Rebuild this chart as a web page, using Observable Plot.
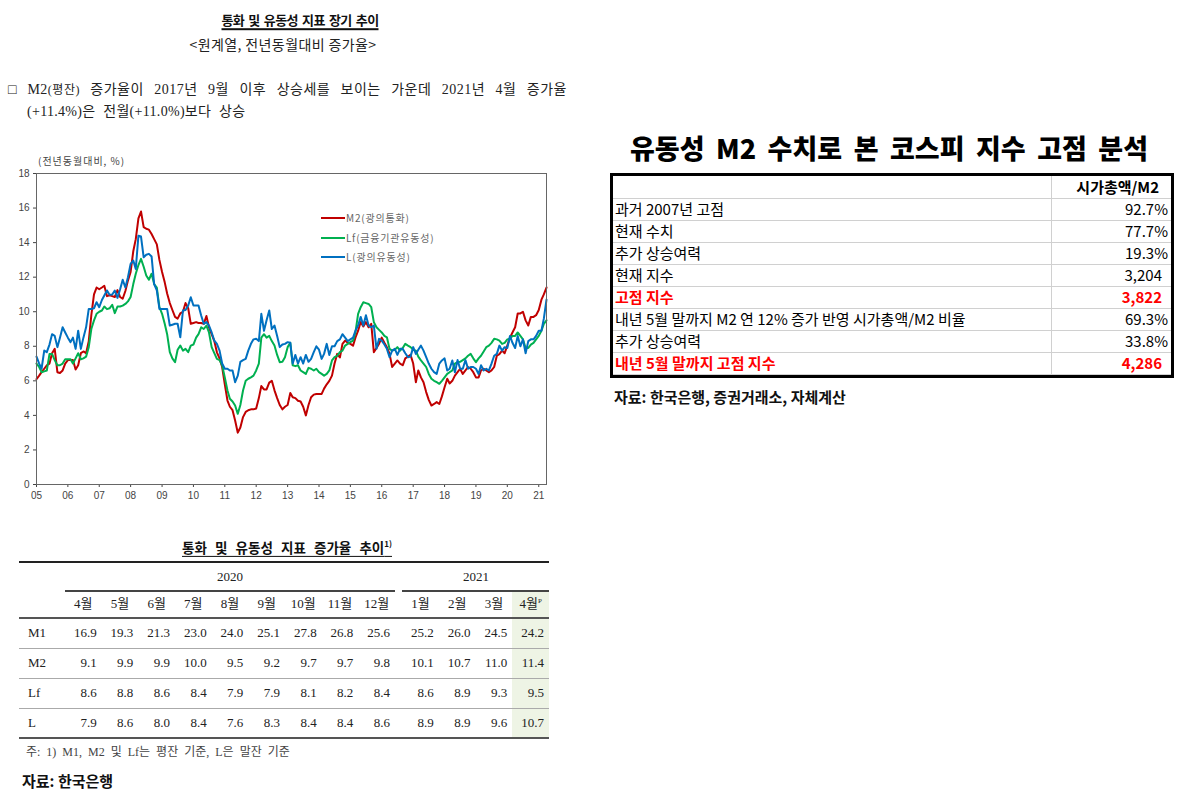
<!DOCTYPE html>
<html><head><meta charset="utf-8">
<script src="https://cdn.jsdelivr.net/npm/d3@7"></script>
<script src="https://cdn.jsdelivr.net/npm/@observablehq/plot@0.6"></script>
<style>
body{margin:0;background:#fff;}
#page{position:relative;width:1196px;height:802px;overflow:hidden;font-family:"Noto Sans CJK KR",sans-serif;color:#111;background:#fff;}
.abs{position:absolute;white-space:nowrap;line-height:1.2;}
.serif{font-family:"Liberation Serif","Noto Sans CJK KR",serif;}
#chart{position:absolute;left:0;top:150px;}
#chart svg{font-family:"Liberation Sans",Arial,sans-serif;font-size:10px;color:#444;}
</style></head><body><div id="page"><div id="chart"></div></div>
<script>
// ---------------- DATA ----------------
// Monthly YoY growth (%), 2005-01 .. 2020-03
const histStart = "2005-01";
const m2Hist = [
 6.1,6.3,6.5,6.7,6.9,7.0,7.6,7.85,6.5,6.45,6.6,7.0,
 7.2,7.2,7.2,6.65,6.9,7.6,7.7,7.6,8.3,9.8,11.0,11.4,
 11.3,11.4,11.5,10.9,10.95,10.9,10.85,11.25,10.85,10.75,11.2,11.8,
 12.3,13.5,14.2,15.4,15.8,14.9,14.8,14.75,14.5,14.2,13.9,13.0,
 12.3,11.7,11.05,10.5,10.1,9.7,9.6,9.9,10.0,10.5,10.2,9.3,
 9.35,9.4,9.35,9.35,9.3,9.75,9.1,8.7,8.3,7.65,7.3,6.8,
 5.8,4.86,4.5,4.3,3.7,3.0,3.3,3.9,4.2,4.3,4.35,4.35,
 4.4,5.0,5.7,5.5,5.5,5.9,6.0,5.45,5.0,4.6,4.35,4.5,
 4.6,5.3,5.05,5.0,4.85,4.8,4.5,4.0,4.6,5.05,5.2,5.24,
 5.24,5.24,5.55,5.8,6.0,6.3,7.0,7.56,7.35,8.14,8.33,8.2,
 8.14,8.04,8.5,8.9,9.4,9.15,9.4,9.1,9.3,7.66,7.9,8.15,
 8.5,8.2,7.95,7.56,6.8,7.0,7.18,7.0,6.9,7.3,7.4,7.5,
 7.0,5.92,6.6,6.2,5.92,5.35,4.9,4.57,4.66,4.77,4.66,5.1,
 5.63,6.12,5.85,6.0,6.3,6.5,6.7,6.4,6.6,6.8,6.7,6.5,
 6.2,6.2,6.6,6.7,6.6,6.5,6.6,6.8,7.45,7.55,7.75,7.6,
 8.04,8.5,8.8
];
const lfHist = [
 7.0,6.8,6.5,6.55,6.6,7.55,7.56,7.2,6.9,6.9,7.0,7.25,
 7.25,7.25,7.0,7.3,7.6,7.25,7.3,7.4,7.95,9.0,9.5,9.88,
 10.0,10.07,10.3,10.15,10.2,10.4,9.92,10.3,10.3,10.35,10.45,10.6,
 10.85,11.6,12.2,12.7,13.06,12.6,12.1,11.85,12.2,11.6,11.4,10.26,
 9.88,9.3,8.7,7.66,7.3,7.08,7.8,8.04,7.75,7.85,7.66,8.04,
 8.1,8.5,8.7,9.1,9.0,9.2,8.8,7.95,7.6,7.27,7.2,6.9,
 6.2,5.44,4.96,4.8,4.57,4.09,4.6,5.44,6.0,6.12,6.2,6.3,
 6.6,7.0,8.5,8.7,8.5,8.6,8.3,8.04,7.5,7.08,7.1,7.37,
 7.95,8.2,6.9,6.85,6.9,6.6,6.5,6.4,6.75,6.7,6.6,6.7,
 6.5,6.4,6.3,6.4,6.6,7.18,7.37,7.45,7.66,7.75,8.04,8.14,
 8.24,8.33,8.8,9.88,10.26,10.55,10.5,10.45,10.26,9.4,9.1,8.95,
 8.8,8.6,8.52,7.85,7.75,7.8,7.95,7.75,7.9,8.14,8.04,7.95,
 7.8,7.75,7.4,7.18,7.0,6.8,6.4,6.12,6.0,5.92,5.83,6.0,
 6.2,6.4,6.5,6.6,7.0,7.08,7.1,7.2,7.3,7.45,7.56,7.3,
 7.08,7.3,7.45,7.7,7.95,8.04,8.2,8.43,8.4,8.33,8.14,8.2,
 8.4,8.43,8.6
];
const lHist = [
 7.4,7.0,6.7,7.75,7.66,8.1,8.7,8.6,7.95,8.5,9.1,8.8,
 8.5,8.24,8.5,7.85,8.9,7.85,8.5,9.1,10.16,10.16,10.2,10.55,
 10.26,10.68,10.94,11.23,10.98,11.0,11.23,10.8,11.3,11.85,11.4,12.0,
 12.77,12.96,12.48,14.4,14.35,13.15,13.3,13.35,13.2,11.6,11.23,10.16,
 10.16,10.16,10.16,9.2,9.25,9.3,9.3,8.52,10.07,10.1,10.36,10.84,
 10.36,10.36,10.36,9.78,9.3,9.4,9.2,8.8,8.33,8.14,7.75,7.0,
 6.7,6.7,6.6,6.6,5.92,6.3,7.1,7.2,7.27,7.75,8.14,8.4,
 8.43,8.3,9.88,8.9,9.5,10.07,9.0,9.2,8.6,7.95,8.1,8.14,
 8.24,8.2,7.0,7.5,7.0,7.37,7.0,7.5,7.1,7.27,7.66,8.0,
 7.8,7.27,7.56,8.14,7.5,8.0,8.0,8.3,8.4,8.7,8.5,8.3,
 8.4,8.5,8.9,9.2,9.7,9.2,9.8,9.2,9.1,9.2,7.85,8.43,
 8.33,8.1,7.85,7.37,7.75,7.85,7.5,7.85,7.85,7.6,7.37,7.4,
 7.95,7.56,7.8,8.04,7.75,7.37,7.0,6.7,6.5,6.4,7.0,7.18,
 7.3,6.6,6.7,7.18,6.5,7.2,6.7,6.7,7.2,6.7,6.8,6.8,
 6.7,6.4,6.9,6.6,6.7,6.6,7.0,7.45,7.56,8.04,7.75,7.95,
 7.9,8.6,8.2
];
const seriesNames = ["M2(광의통화)", "Lf(금융기관유동성)", "L(광의유동성)"];
const seriesColors = ["#c00000", "#00b050", "#0070c0"];
const yTicks = [0,2,4,6,8,10,12,14,16,18];

// Table: 2020-04 .. 2021-04
const months2020 = ["4월","5월","6월","7월","8월","9월","10월","11월","12월"];
const months2021 = ["1월","2월","3월","4월<sup style='font-size:7px'>P</sup>"];
const rowNames = ["M1","M2","Lf","L"];
const m1Row = [16.9,19.3,21.3,23.0,24.0,25.1,27.8,26.8,25.6,25.2,26.0,24.5,24.2];
const m2Row = [9.1,9.9,9.9,10.0,9.5,9.2,9.7,9.7,9.8,10.1,10.7,11.0,11.4];
const lfRow = [8.6,8.8,8.6,8.4,7.9,7.9,8.1,8.2,8.4,8.6,8.9,9.3,9.5];
const lRow  = [7.9,8.6,8.0,8.4,7.6,8.3,8.4,8.4,8.6,8.9,8.9,9.6,10.7];

// KOSPI table
const kospiLabels = ["과거 2007년 고점","현재 수치","추가 상승여력","현재 지수","고점 지수",
  "내년 5월 말까지 M2 연 12% 증가 반영 시가총액/M2 비율","추가 상승여력","내년 5월 말까지 고점 지수"];
const kospiValues = ["92.7%","77.7%","19.3%","3,204","3,822","69.3%","33.8%","4,286"];
const kospiEmphasis = [false,false,false,false,true,false,false,true];

// ---------------- HELPERS ----------------
const page = document.getElementById("page");
function put(html, x, y, css = {}, anchor = "start") {
  const d = document.createElement("div");
  d.className = "abs";
  d.innerHTML = html;
  d.style.left = x + "px"; d.style.top = y + "px";
  const tx = anchor === "middle" ? "-50%" : anchor === "end" ? "-100%" : "0";
  d.style.transform = `translate(${tx},-50%)`;
  Object.assign(d.style, css);
  page.appendChild(d);
  return d;
}
function box(x, y, w, h, css) {
  const d = document.createElement("div");
  d.style.position = "absolute";
  d.style.left = x + "px"; d.style.top = y + "px";
  d.style.width = w + "px"; d.style.height = h + "px";
  Object.assign(d.style, css);
  page.appendChild(d);
  return d;
}
function fitWords(el, target) {
  const spaces = (el.textContent.match(/ /g) || []).length;
  const w = el.getBoundingClientRect().width;
  if (spaces) el.style.wordSpacing = Math.max(0, (target - w) / spaces) + "px";
}

// ---------------- LEFT: TITLE + TEXT ----------------
const lt = put("통화 및 유동성 지표 장기 추이", 300, 20,
  {fontSize:"13px", fontWeight:"700", letterSpacing:"-0.6px", textDecoration:"underline", textUnderlineOffset:"3px", textDecorationThickness:"1.5px"}, "middle");
fitWords(lt, 157);
put("&lt;원계열, 전년동월대비 증가율&gt;", 283, 44, {fontSize:"14px", color:"#222", letterSpacing:"0.4px"}, "middle");
const p1 = put("□ M2<span style='font-size:12px'>(평잔)</span> 증가율이 2017년 9월 이후 상승세를 보이는 가운데 2021년 4월 증가율",
  8, 90, {fontSize:"14px", color:"#222", letterSpacing:"0.5px"});
p1.classList.add("serif");
fitWords(p1, 559);
const p2 = put("(+11.4%)은 전월(+11.0%)보다 상승", 27, 112, {fontSize:"14px", color:"#222", wordSpacing:"4px", letterSpacing:"0.3px"});
p2.classList.add("serif");

// ---------------- CHART ----------------
const t0 = d3.utcParse("%Y-%m")(histStart);
function toRows(hist, tail, name) {
  return hist.concat(tail).map((v, i) => ({date: d3.utcMonth.offset(t0, i), value: v, series: name}));
}
const data = [
  ...toRows(m2Hist, m2Row, seriesNames[0]),
  ...toRows(lfHist, lfRow, seriesNames[1]),
  ...toRows(lHist, lRow, seriesNames[2])
];
const endDate = d3.max(data, d => d.date);

const chart = Plot.plot({
  width: 560, height: 360,
  marginLeft: 36, marginRight: 14, marginTop: 23, marginBottom: 26,
  x: {type: "utc", domain: [t0, endDate]},
  y: {domain: [0, 18]},
  color: {domain: seriesNames, range: seriesColors},
  marks: [
    Plot.axisX({ticks: d3.utcYear.every(1), tickFormat: d3.utcFormat("%y"), tickSize: 3, tickPadding: 4, label: null}),
    Plot.axisY({ticks: yTicks, tickSize: 3, tickPadding: 4, label: null}),
    Plot.lineY(data, {x: "date", y: "value", z: "series", stroke: "series", strokeWidth: 2, strokeLinejoin: "round"}),
    Plot.frame({stroke: "#666", strokeWidth: 1})
  ]
});
document.getElementById("chart").appendChild(chart);

put("(전년동월대비, %)", 38, 161, {fontSize:"10px", color:"#444", letterSpacing:"1px"});
// legend
const legendY = [218, 238, 257];
seriesNames.forEach((n, i) => {
  box(321, legendY[i] - 1, 24, 2, {background: seriesColors[i]});
  put(n, 346, legendY[i], {fontSize:"10px", color:"#666", letterSpacing:"0.8px"});
});

// ---------------- LEFT BOTTOM TABLE ----------------
const tt = put("통화 및 유동성 지표 증가율 추이<sup style='font-size:8px'>1)</sup>", 287, 547,
  {fontSize:"13.5px", fontWeight:"700", textDecoration:"underline", textUnderlineOffset:"3px", textDecorationThickness:"1.2px"}, "middle");
fitWords(tt, 210);
const tL = 19, tR = 549;
const colW20 = (395 - 65) / months2020.length;
const colW21 = (549 - 402) / months2021.length;
const colLeft = [...months2020.map((_, i) => 65 + i * colW20), ...months2021.map((_, i) => 402 + i * colW21)];
const colWidth = [...months2020.map(() => colW20), ...months2021.map(() => colW21)];
const last = colLeft.length - 1;
box(colLeft[last], 591, colWidth[last], 147, {background: "#eef4e5"});
box(tL, 561, tR - tL, 1.5, {background: "#222"});
box(65, 590, 330, 1.5, {background: "#444"});
box(402, 590, 147, 1.5, {background: "#444"});
box(tL, 617, tR - tL, 1.5, {background: "#555"});
[648, 678, 708].forEach(y => box(tL, y, tR - tL, 1, {background: "#aaa"}));
box(tL, 737, tR - tL, 1.5, {background: "#555"});
put("2020", 230, 577, {fontSize:"13px", color:"#222"}, "middle").classList.add("serif");
put("2021", 476, 577, {fontSize:"13px", color:"#222"}, "middle").classList.add("serif");
[...months2020, ...months2021].forEach((m, i) => {
  put(m, colLeft[i] + colWidth[i] / 2, 604, {fontSize:"13px", color:"#222"}, "middle").classList.add("serif");
});
const rowVals = [m1Row, m2Row, lfRow, lRow];
const rowY = [633, 663, 693, 723];
rowNames.forEach((n, r) => {
  put(n, 28, rowY[r], {fontSize:"13px", color:"#222"}).classList.add("serif");
  rowVals[r].forEach((v, i) => {
    put(v.toFixed(1), colLeft[i] + colWidth[i] - 5, rowY[r], {fontSize:"13px", color:"#222"}, "end").classList.add("serif");
  });
});
put("주: 1) M1, M2 및 Lf는 평잔 기준, L은 말잔 기준", 26, 752, {fontSize:"12px", color:"#444", wordSpacing:"3px"}).classList.add("serif");
put("자료: 한국은행", 22, 781, {fontSize:"15px", fontWeight:"700", color:"#111"});

// ---------------- RIGHT: KOSPI TABLE ----------------
const rt = put("유동성 M2 수치로 본 코스피 지수 고점 분석", 630, 148, {fontSize:"27px", fontWeight:"900", color:"#000"});
fitWords(rt, 518);
const bx = 610, by = 173, bw = 564, bh = 205, divX = 1051;
box(bx, by, bw, bh, {border: "3px solid #000", boxSizing: "border-box"});
const rowH = 22;
for (let k = 0; k <= kospiLabels.length; k++) {
  box(bx + 3, 198 + k * rowH, bw - 6, 1, {background: "#d0d0d0"});
}
box(divX, by + 3, 1, bh - 6, {background: "#d0d0d0"});
put("시가총액/M2", 1159, 187, {fontSize:"15px", fontWeight:"700", color:"#000"}, "end");
kospiLabels.forEach((lab, i) => {
  const y = 209 + i * rowH;
  const em = kospiEmphasis[i];
  const css = {fontSize:"15px", color: em ? "#ff0000" : "#000", fontWeight: em ? "700" : "400"};
  put(lab, 615, y, css);
  const v = kospiValues[i];
  put(v, v.endsWith("%") ? 1168 : 1162, y, css, "end");
});
put("자료: 한국은행, 증권거래소, 자체계산", 614, 397, {fontSize:"15px", fontWeight:"700", color:"#111"});
</script></body></html>
